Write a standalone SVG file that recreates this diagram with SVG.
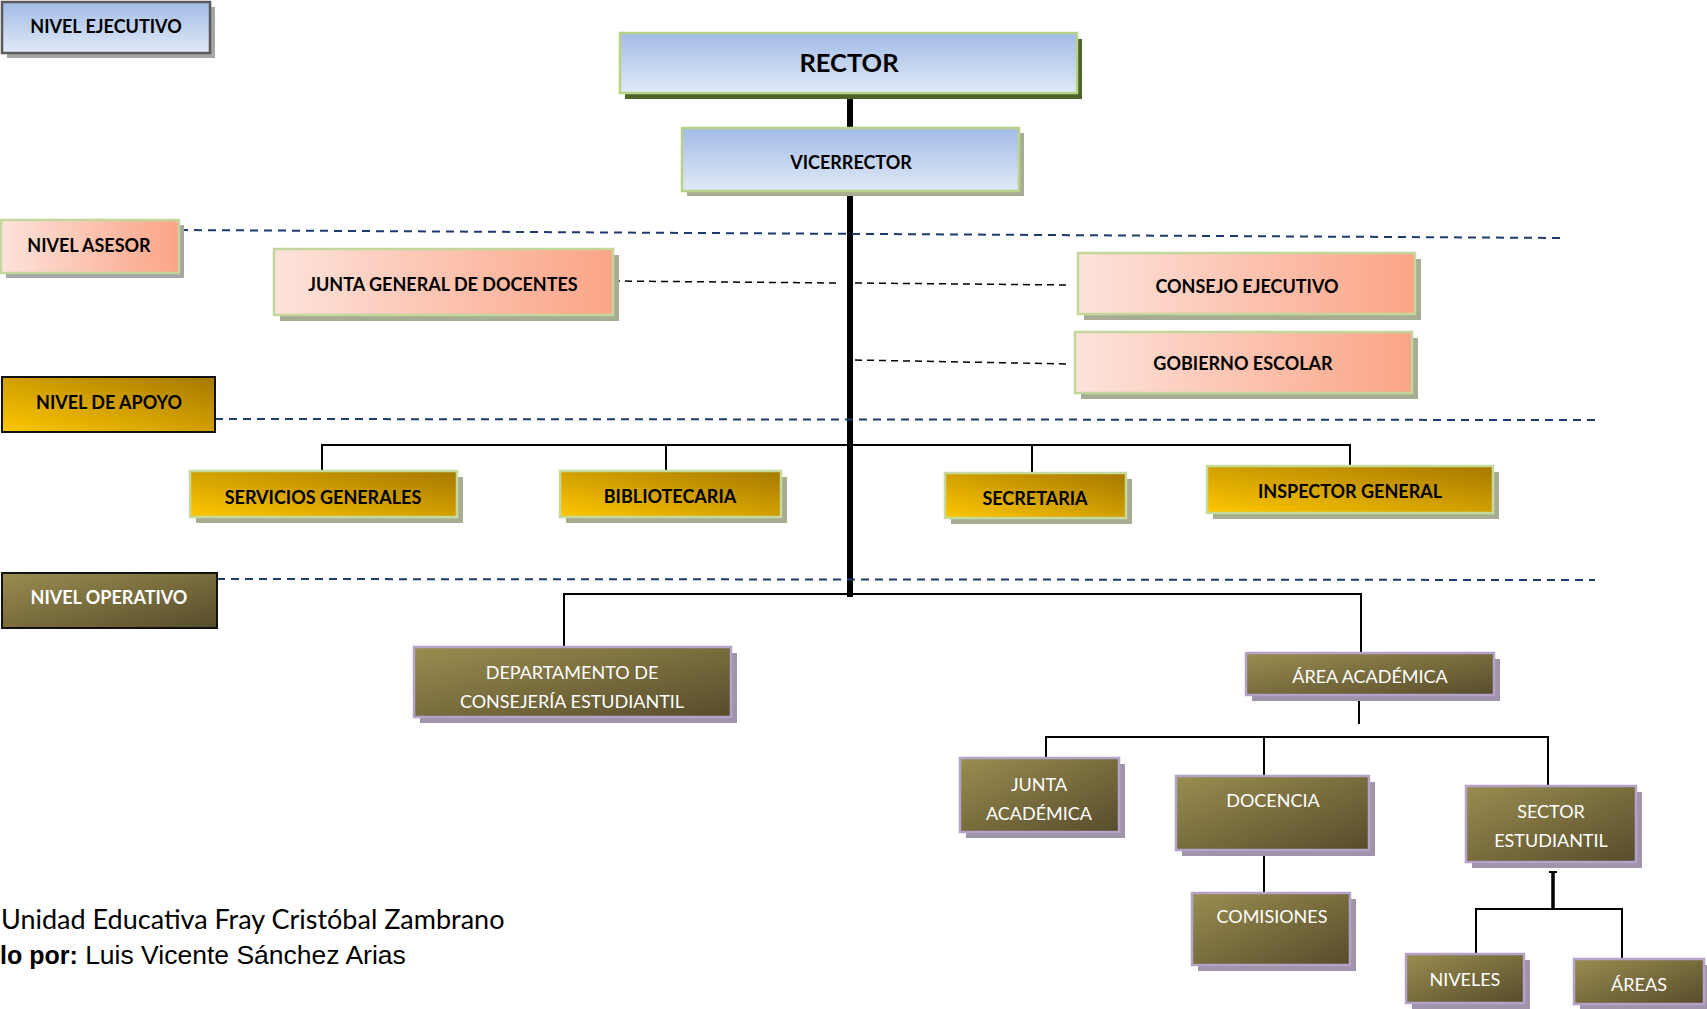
<svg xmlns="http://www.w3.org/2000/svg" width="1707" height="1009" viewBox="0 0 1707 1009">
<style>
  .t { font-family: Lato, "Noto Sans", "DejaVu Sans", sans-serif; text-anchor: middle; }
  .b { font-weight: bold; fill: #000; font-size: 18px; }
  .w { fill: #fff; font-size: 18px; }
  .shG { fill: #a6ad93; }
  .shL { fill: #a6a6a6; }
  .shP { fill: #9f94a9; }
  .nb { fill: url(#gBlue); stroke: #b7d186; stroke-width: 2.5; }
  .np { fill: url(#gPeach); stroke: #c3d79c; stroke-width: 2.5; }
  .ng { fill: url(#gGold); stroke: #c6da9d; stroke-width: 2.5; }
  .no { fill: url(#gOlive); stroke: #b4a3c8; stroke-width: 2.5; }
  .dash { stroke: #1f3a6e; stroke-width: 2; stroke-dasharray: 8 6; fill: none; }
  .dashk { stroke: #000; stroke-width: 1.5; stroke-dasharray: 7 5; fill: none; }
  .ln { stroke: #000; stroke-width: 2; fill: none; }
  .trunk { stroke: #000; stroke-width: 6; fill: none; }
</style>
<defs>
  <linearGradient id="gBlue" x1="0" y1="0" x2="0" y2="1">
    <stop offset="0" stop-color="#a2bce6"/>
    <stop offset="1" stop-color="#e0e9f6"/>
  </linearGradient>
  <linearGradient id="gPeach" x1="0" y1="0" x2="1" y2="0">
    <stop offset="0" stop-color="#fde3db"/>
    <stop offset="1" stop-color="#fba486"/>
  </linearGradient>
  <linearGradient id="gGold" x1="0" y1="1" x2="1" y2="0">
    <stop offset="0" stop-color="#fdc700"/>
    <stop offset="1" stop-color="#a67800"/>
  </linearGradient>
  <linearGradient id="gOlive" x1="0" y1="0" x2="1" y2="1">
    <stop offset="0" stop-color="#9a8d50"/>
    <stop offset="1" stop-color="#574c2b"/>
  </linearGradient>
</defs>

<rect width="1707" height="1009" fill="#fff"/>

<g id="connectors">
  <line class="trunk" x1="850" y1="93" x2="850" y2="597"/>
  <line class="dash" x1="180" y1="230" x2="1565" y2="238"/>
  <line class="dashk" x1="613" y1="281" x2="836" y2="283"/>
  <line class="dashk" x1="855" y1="283" x2="1070" y2="285"/>
  <line class="dashk" x1="855" y1="360" x2="1070" y2="364"/>
  <line class="dash" x1="215" y1="419" x2="1595" y2="420"/>
  <path class="ln" d="M322,471 V445 H1350 V466 M666,445 V470 M1032,445 V473"/>
  <line class="dash" x1="217" y1="579" x2="1595" y2="580"/>
  <path class="ln" d="M564,647 V594 H1361 V653"/>
  <line class="ln" x1="1359" y1="698" x2="1359" y2="724"/>
  <path class="ln" d="M1046,758 V737 H1548 V786 M1264,737 V776"/>
  <line class="ln" x1="1264" y1="850" x2="1264" y2="893"/>
  <line stroke="#000" stroke-width="3.5" x1="1553" y1="872" x2="1553" y2="909"/>
  <line stroke="#000" stroke-width="2" x1="1549" y1="872" x2="1557" y2="872"/>
  <path class="ln" d="M1476,954 V909 H1622 V959"/>
</g>

<g id="nivel-ejecutivo">
  <rect class="shL" x="7" y="7" width="208" height="51"/>
  <rect x="2" y="2" width="208" height="51" fill="url(#gBlue)" stroke="#5a5a5a" stroke-width="2.5"/>
  <text class="t b" x="106" y="33">NIVEL EJECUTIVO</text>
</g>

<g id="rector">
  <rect x="625" y="39" width="457" height="60" fill="#4f6228"/>
  <rect class="nb" x="620" y="33" width="457" height="60"/>
  <text class="t b" x="849" y="72" style="font-size:25.5px">RECTOR</text>
</g>

<g id="vicerrector">
  <rect class="shG" x="687" y="133" width="337" height="63"/>
  <rect class="nb" x="682" y="128" width="337" height="63"/>
  <text class="t b" x="851" y="169">VICERRECTOR</text>
</g>

<g id="nivel-asesor">
  <rect class="shL" x="6" y="225" width="178" height="53"/>
  <rect class="np" x="1" y="220" width="178" height="53" stroke="#5a5a5a"/>
  <text class="t b" x="89" y="252">NIVEL ASESOR</text>
</g>

<g id="junta-general">
  <rect class="shG" x="280" y="255" width="339" height="66"/>
  <rect class="np" x="274" y="249" width="339" height="66"/>
  <text class="t b" x="443" y="291">JUNTA GENERAL DE DOCENTES</text>
</g>

<g id="consejo-ejecutivo">
  <rect class="shG" x="1084" y="259" width="337" height="61"/>
  <rect class="np" x="1078" y="253" width="337" height="61"/>
  <text class="t b" x="1247" y="293">CONSEJO EJECUTIVO</text>
</g>

<g id="gobierno-escolar">
  <rect class="shG" x="1081" y="338" width="337" height="61"/>
  <rect class="np" x="1075" y="332" width="337" height="61"/>
  <text class="t b" x="1243" y="370">GOBIERNO ESCOLAR</text>
</g>

<g id="nivel-apoyo">
  <rect x="2" y="377" width="213" height="55" fill="url(#gGold)" stroke="#111" stroke-width="2"/>
  <text class="t b" x="109" y="409">NIVEL DE APOYO</text>
</g>

<g id="servicios-generales">
  <rect class="shG" x="196" y="477" width="267" height="46"/>
  <rect class="ng" x="190" y="471" width="267" height="46"/>
  <text class="t b" x="323" y="504">SERVICIOS GENERALES</text>
</g>

<g id="bibliotecaria">
  <rect class="shG" x="566" y="477" width="221" height="46"/>
  <rect class="ng" x="560" y="471" width="221" height="46"/>
  <text class="t b" x="670" y="503">BIBLIOTECARIA</text>
</g>

<g id="secretaria">
  <rect class="shG" x="951" y="479" width="181" height="45"/>
  <rect class="ng" x="945" y="473" width="181" height="45"/>
  <text class="t b" x="1035" y="505">SECRETARIA</text>
</g>

<g id="inspector-general">
  <rect class="shG" x="1213" y="472" width="286" height="47"/>
  <rect class="ng" x="1207" y="466" width="286" height="47"/>
  <text class="t b" x="1350" y="498">INSPECTOR GENERAL</text>
</g>

<g id="nivel-operativo">
  <rect x="2" y="573" width="215" height="55" fill="url(#gOlive)" stroke="#111" stroke-width="2"/>
  <text class="t w" x="109" y="604" style="font-weight:bold">NIVEL OPERATIVO</text>
</g>

<g id="departamento-consejeria">
  <rect class="shP" x="420" y="653" width="317" height="70"/>
  <rect class="no" x="414" y="647" width="317" height="70"/>
  <text class="t w" x="572" y="679">DEPARTAMENTO DE</text>
  <text class="t w" x="572" y="708">CONSEJERÍA ESTUDIANTIL</text>
</g>

<g id="area-academica">
  <rect class="shP" x="1252" y="659" width="248" height="42"/>
  <rect class="no" x="1246" y="653" width="248" height="42"/>
  <text class="t w" x="1370" y="683">ÁREA ACADÉMICA</text>
</g>

<g id="junta-academica">
  <rect class="shP" x="966" y="764" width="159" height="74"/>
  <rect class="no" x="960" y="758" width="159" height="74"/>
  <text class="t w" x="1039" y="791">JUNTA</text>
  <text class="t w" x="1039" y="820">ACADÉMICA</text>
</g>

<g id="docencia">
  <rect class="shP" x="1182" y="782" width="193" height="74"/>
  <rect class="no" x="1176" y="776" width="193" height="74"/>
  <text class="t w" x="1273" y="807">DOCENCIA</text>
</g>

<g id="sector-estudiantil">
  <rect class="shP" x="1472" y="792" width="170" height="76"/>
  <rect class="no" x="1466" y="786" width="170" height="76"/>
  <text class="t w" x="1551" y="818">SECTOR</text>
  <text class="t w" x="1551" y="847">ESTUDIANTIL</text>
</g>

<g id="comisiones">
  <rect class="shP" x="1198" y="899" width="158" height="72"/>
  <rect class="no" x="1192" y="893" width="158" height="72"/>
  <text class="t w" x="1272" y="923">COMISIONES</text>
</g>

<g id="niveles">
  <rect class="shP" x="1412" y="960" width="118" height="49"/>
  <rect class="no" x="1406" y="954" width="118" height="49"/>
  <text class="t w" x="1465" y="986">NIVELES</text>
</g>

<g id="areas">
  <rect class="shP" x="1580" y="965" width="130" height="45"/>
  <rect class="no" x="1574" y="959" width="130" height="45"/>
  <text class="t w" x="1639" y="991">ÁREAS</text>
</g>

<g id="footer">
  <text x="1" y="929" style="font-family: Lato, 'Noto Sans', sans-serif; font-size:27px; fill:#000">Unidad Educativa Fray Cristóbal Zambrano</text>
  <text x="0" y="964" style="font-family: 'Liberation Sans', Arial, sans-serif; font-size:26.5px; fill:#000"><tspan font-weight="bold" style="font-size:25px">lo por:</tspan> Luis Vicente Sánchez Arias</text>
</g>
</svg>
